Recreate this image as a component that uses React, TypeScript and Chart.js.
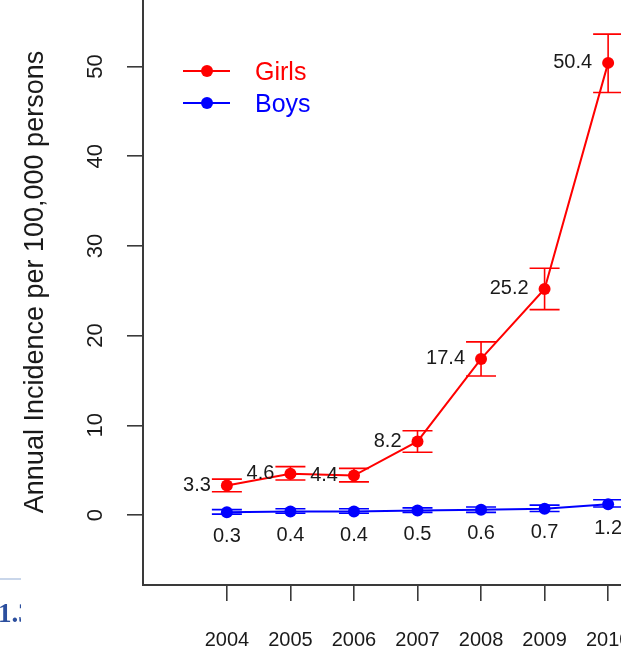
import React, { useEffect, useRef } from "react";
import { Chart, registerables } from "chart.js";

Chart.register(...registerables);

// ---- data ----
const years = [2004, 2005, 2006, 2007, 2008, 2009, 2010];
const seriesNames = ["Girls", "Boys"];
const girls = [3.3, 4.6, 4.4, 8.2, 17.4, 25.2, 50.4];
const girlsLow = [2.6, 3.9, 3.7, 7.0, 15.5, 22.9, 47.1];
const girlsHigh = [4.0, 5.4, 5.2, 9.4, 19.3, 27.5, 53.6];
const boys = [0.3, 0.4, 0.4, 0.5, 0.6, 0.7, 1.2];
const boysLow = [0.1, 0.2, 0.2, 0.3, 0.3, 0.4, 0.9];
const boysHigh = [0.6, 0.7, 0.7, 0.8, 0.9, 1.1, 1.7];
const yTicks = [0, 10, 20, 30, 40, 50];
const yTitle = "Annual Incidence per 100,000 persons";
const sideHeading = "1.3";

const FAMILY = "'Liberation Sans', Arial, sans-serif";
const AXIS = "#3a3a3a";
const TEXT = "#1a1a1a";
const RED = "#ff0000";
const BLUE = "#0000ff";

const errorBarPlugin = {
  id: "errorBars",
  afterDatasetsDraw(chart: any) {
    const { ctx } = chart;
    const yScale = chart.scales.y;
    ctx.save();
    chart.data.datasets.forEach((ds: any, i: number) => {
      const meta = chart.getDatasetMeta(i);
      ctx.strokeStyle = ds.borderColor;
      ctx.lineWidth = 1.6;
      meta.data.forEach((pt: any, j: number) => {
        const yl = yScale.getPixelForValue(ds.errLow[j]);
        const yh = yScale.getPixelForValue(ds.errHigh[j]);
        const w = 15;
        ctx.beginPath();
        ctx.moveTo(pt.x, yl);
        ctx.lineTo(pt.x, yh);
        ctx.moveTo(pt.x - w, yl);
        ctx.lineTo(pt.x + w, yl);
        ctx.moveTo(pt.x - w, yh);
        ctx.lineTo(pt.x + w, yh);
        ctx.stroke();
      });
    });
    ctx.restore();
  },
};

const valueLabelPlugin = {
  id: "valueLabels",
  afterDatasetsDraw(chart: any) {
    const { ctx } = chart;
    ctx.save();
    ctx.font = `20px ${FAMILY}`;
    ctx.fillStyle = TEXT;
    ctx.textBaseline = "middle";
    chart.data.datasets.forEach((ds: any, i: number) => {
      const meta = chart.getDatasetMeta(i);
      meta.data.forEach((pt: any, j: number) => {
        const txt = Number(ds.data[j].y).toFixed(1);
        if (ds.labelSide === "left") {
          ctx.textAlign = "right";
          ctx.fillText(txt, pt.x - 16, pt.y);
        } else {
          ctx.textAlign = "center";
          ctx.fillText(txt, pt.x, pt.y + 24);
        }
      });
    });
    ctx.restore();
  },
};

const legendPlugin = {
  id: "lineLegend",
  afterDraw(chart: any) {
    const { ctx, chartArea } = chart;
    const x0 = chartArea.left + 40;
    const x1 = chartArea.left + 87;
    const xp = chartArea.left + 64;
    const xt = chartArea.left + 112;
    const rows = [92, 124];
    ctx.save();
    ctx.font = `25px ${FAMILY}`;
    ctx.textAlign = "left";
    ctx.textBaseline = "middle";
    chart.data.datasets.forEach((ds: any, i: number) => {
      const y = chartArea.top + rows[i];
      ctx.strokeStyle = ds.borderColor;
      ctx.lineWidth = 2;
      ctx.beginPath();
      ctx.moveTo(x0, y);
      ctx.lineTo(x1, y);
      ctx.stroke();
      ctx.fillStyle = ds.borderColor;
      ctx.beginPath();
      ctx.arc(xp, y, 6, 0, Math.PI * 2);
      ctx.fill();
      ctx.fillText(ds.label, xt, y + 2);
    });
    ctx.restore();
  },
};

export default function App() {
  const ref = useRef<HTMLCanvasElement | null>(null);

  useEffect(() => {
    if (!ref.current) return;
    const chart = new Chart(ref.current, {
      type: "line",
      data: {
        datasets: [
          {
            label: seriesNames[0],
            data: years.map((x, i) => ({ x, y: girls[i] })),
            borderColor: RED,
            backgroundColor: RED,
            pointBackgroundColor: RED,
            pointBorderWidth: 0,
            pointRadius: 6,
            borderWidth: 2,
            tension: 0,
            errLow: girlsLow,
            errHigh: girlsHigh,
            labelSide: "left",
          } as any,
          {
            label: seriesNames[1],
            data: years.map((x, i) => ({ x, y: boys[i] })),
            borderColor: BLUE,
            backgroundColor: BLUE,
            pointBackgroundColor: BLUE,
            pointBorderWidth: 0,
            pointRadius: 6,
            borderWidth: 2,
            tension: 0,
            errLow: boysLow,
            errHigh: boysHigh,
            labelSide: "below",
          } as any,
        ],
      },
      options: {
        responsive: false,
        animation: false,
        devicePixelRatio: 1,
        layout: { autoPadding: false, padding: { left: 0, right: 8, top: 0, bottom: 0 } },
        plugins: {
          legend: { display: false },
          tooltip: { enabled: false },
        },
        scales: {
          x: {
            type: "linear",
            min: 2002.68,
            max: 2011.32,
            afterBuildTicks: (s: any) => {
              s.ticks = years.map((v) => ({ value: v }));
            },
            afterFit: (s: any) => {
              s.height = 65;
              s.paddingLeft = 0;
              s.paddingRight = 0;
            },
            border: { display: true, color: AXIS, width: 2 },
            grid: {
              drawOnChartArea: false,
              drawTicks: true,
              tickLength: 16,
              color: AXIS,
              lineWidth: 1.6,
            },
            ticks: {
              font: { size: 20, family: FAMILY },
              color: TEXT,
              padding: 27,
              minRotation: 0,
              maxRotation: 0,
              autoSkip: false,
              callback: (v: any) => String(v),
            },
          },
          y: {
            type: "linear",
            min: -7.8,
            max: 59.75,
            afterBuildTicks: (s: any) => {
              s.ticks = yTicks.map((v) => ({ value: v }));
            },
            afterFit: (s: any) => {
              s.width = 143;
              s.paddingTop = 0;
              s.paddingBottom = 0;
            },
            border: { display: true, color: AXIS, width: 2 },
            grid: {
              drawOnChartArea: false,
              drawTicks: true,
              tickLength: 16,
              color: AXIS,
              lineWidth: 1.6,
            },
            ticks: {
              font: { size: 22, family: FAMILY },
              color: TEXT,
              minRotation: 90,
              maxRotation: 90,
              crossAlign: "center",
              padding: 19,
              autoSkip: false,
              callback: (v: any) => String(v),
            },
            title: {
              display: true,
              text: yTitle,
              font: { size: 27, family: FAMILY },
              color: TEXT,
              padding: { top: 19, bottom: 0 },
            },
          },
        },
      } as any,
      plugins: [errorBarPlugin, valueLabelPlugin, legendPlugin],
    });
    return () => chart.destroy();
  }, []);

  return (
    <div
      style={{
        position: "fixed",
        left: 0,
        top: 0,
        width: 621,
        height: 650,
        overflow: "hidden",
        background: "#ffffff",
      }}
    >
      <canvas
        ref={ref}
        width={700}
        height={671}
        style={{ position: "absolute", left: 0, top: -21, width: 700, height: 671, display: "block" }}
      />
      <div
        style={{
          position: "absolute",
          left: 0,
          top: 578,
          width: 21,
          height: 2,
          background: "#c9d6ea",
        }}
      />
      <div
        style={{
          position: "absolute",
          left: 0,
          top: 600,
          width: 21,
          height: 30,
          overflow: "hidden",
        }}
      >
        <span
          style={{
            position: "absolute",
            left: -2,
            top: 0,
            fontFamily: "'Liberation Serif', 'Times New Roman', serif",
            fontWeight: 700,
            fontSize: 27,
            lineHeight: "27px",
            color: "#2c4f9e",
            whiteSpace: "nowrap",
          }}
        >
          {sideHeading}
        </span>
      </div>
    </div>
  );
}
